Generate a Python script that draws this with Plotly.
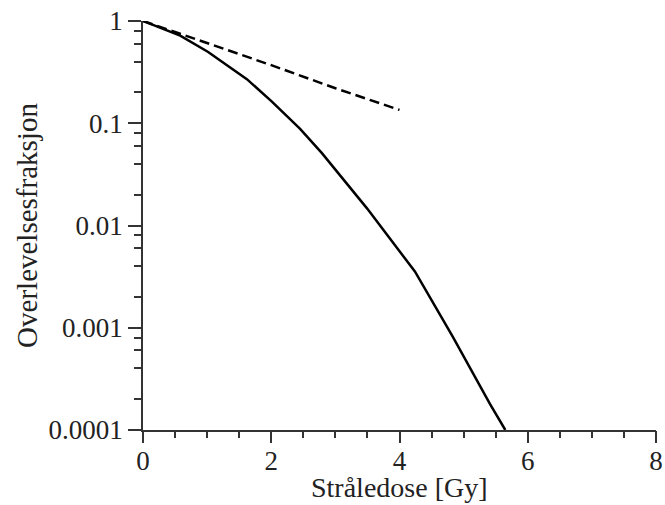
import plotly.graph_objects as go

# Cell survival versus radiation dose
dose_lq = [0, 0.58, 1.01, 1.62, 2.01, 2.45, 2.79, 3.49, 4.24, 4.83, 5.41, 5.65]
surv_lq = [1.0, 0.72, 0.50, 0.27, 0.163, 0.088, 0.051, 0.0148, 0.00355, 0.00082, 0.00018, 0.0001]

dose_lin = [0, 1, 2, 3, 4]
surv_lin = [1.0, 0.61, 0.37, 0.22, 0.135]

x_major = [0, 2, 4, 6, 8]
y_tickvals = [1, 0.1, 0.01, 0.001, 0.0001]
y_ticktext = ["1", "0.1", "0.01", "0.001", "0.0001"]
y_minor = [m * d for d in [0.1, 0.01, 0.001, 0.0001] for m in (2, 4, 6, 8)]

x_title = "Stråledose [Gy]"
y_title = "Overlevelsesfraksjon"

FONT = "Liberation Serif"
AX = "#333"

fig = go.Figure()
fig.add_trace(go.Scatter(x=dose_lq, y=surv_lq, mode="lines",
                         line=dict(color="black", width=2.5)))
fig.add_trace(go.Scatter(x=dose_lin, y=surv_lin, mode="lines",
                         line=dict(color="black", width=2.5, dash="10px,5px")))
# empty traces carrying the overlaid axes used for the extra tick marks
fig.add_trace(go.Scatter(x=[None], y=[None], yaxis="y2", mode="lines",
                         hoverinfo="skip"))
fig.add_trace(go.Scatter(x=[None], y=[None], xaxis="x2", mode="lines",
                         hoverinfo="skip"))

fig.update_layout(
    width=665, height=505,
    margin=dict(l=143, r=9, t=21, b=75),
    paper_bgcolor="white", plot_bgcolor="white",
    showlegend=False,
    font=dict(family=FONT, size=27, color="#222"),
    xaxis=dict(
        range=[0, 8], tickmode="array", tickvals=x_major,
        automargin=False,
        showgrid=False, zeroline=False,
        showline=True, linecolor=AX, linewidth=1.5,
        ticks="outside", ticklen=6, tickwidth=1.5, tickcolor=AX,
        minor=dict(tick0=0, dtick=0.5, ticks="outside", ticklen=6,
                   tickwidth=1.5, tickcolor=AX, showgrid=False),
    ),
    # long major ticks on x, drawn without labels
    xaxis2=dict(
        range=[0, 8], overlaying="x", side="bottom",
        tickmode="array", tickvals=x_major, showticklabels=False,
        automargin=False,
        showgrid=False, zeroline=False, showline=False,
        ticks="outside", ticklen=12, tickwidth=1.5, tickcolor=AX,
    ),
    yaxis=dict(
        type="log", range=[-4, 0],
        tickmode="array", tickvals=y_tickvals, ticktext=y_ticktext,
        automargin=False,
        showgrid=False, zeroline=False,
        showline=True, linecolor=AX, linewidth=1.5,
        ticks="outside", ticklen=13, tickwidth=1.5, tickcolor=AX,
        title=dict(text=y_title, font=dict(family=FONT, size=29), standoff=2),
    ),
    # minor ticks at 2, 4, 6, 8 of each decade
    yaxis2=dict(
        type="log", range=[-4, 0], overlaying="y", side="left",
        tickmode="array", tickvals=y_minor, showticklabels=False,
        automargin=False,
        showgrid=False, zeroline=False, showline=False,
        ticks="outside", ticklen=8, tickwidth=1.5, tickcolor=AX,
    ),
    annotations=[dict(
        text=x_title, xref="paper", yref="paper", x=0.5, y=0,
        xanchor="center", yanchor="middle", yshift=-57, showarrow=False,
        font=dict(family=FONT, size=28, color="#222"),
    )],
)

fig.write_html("out.html")
